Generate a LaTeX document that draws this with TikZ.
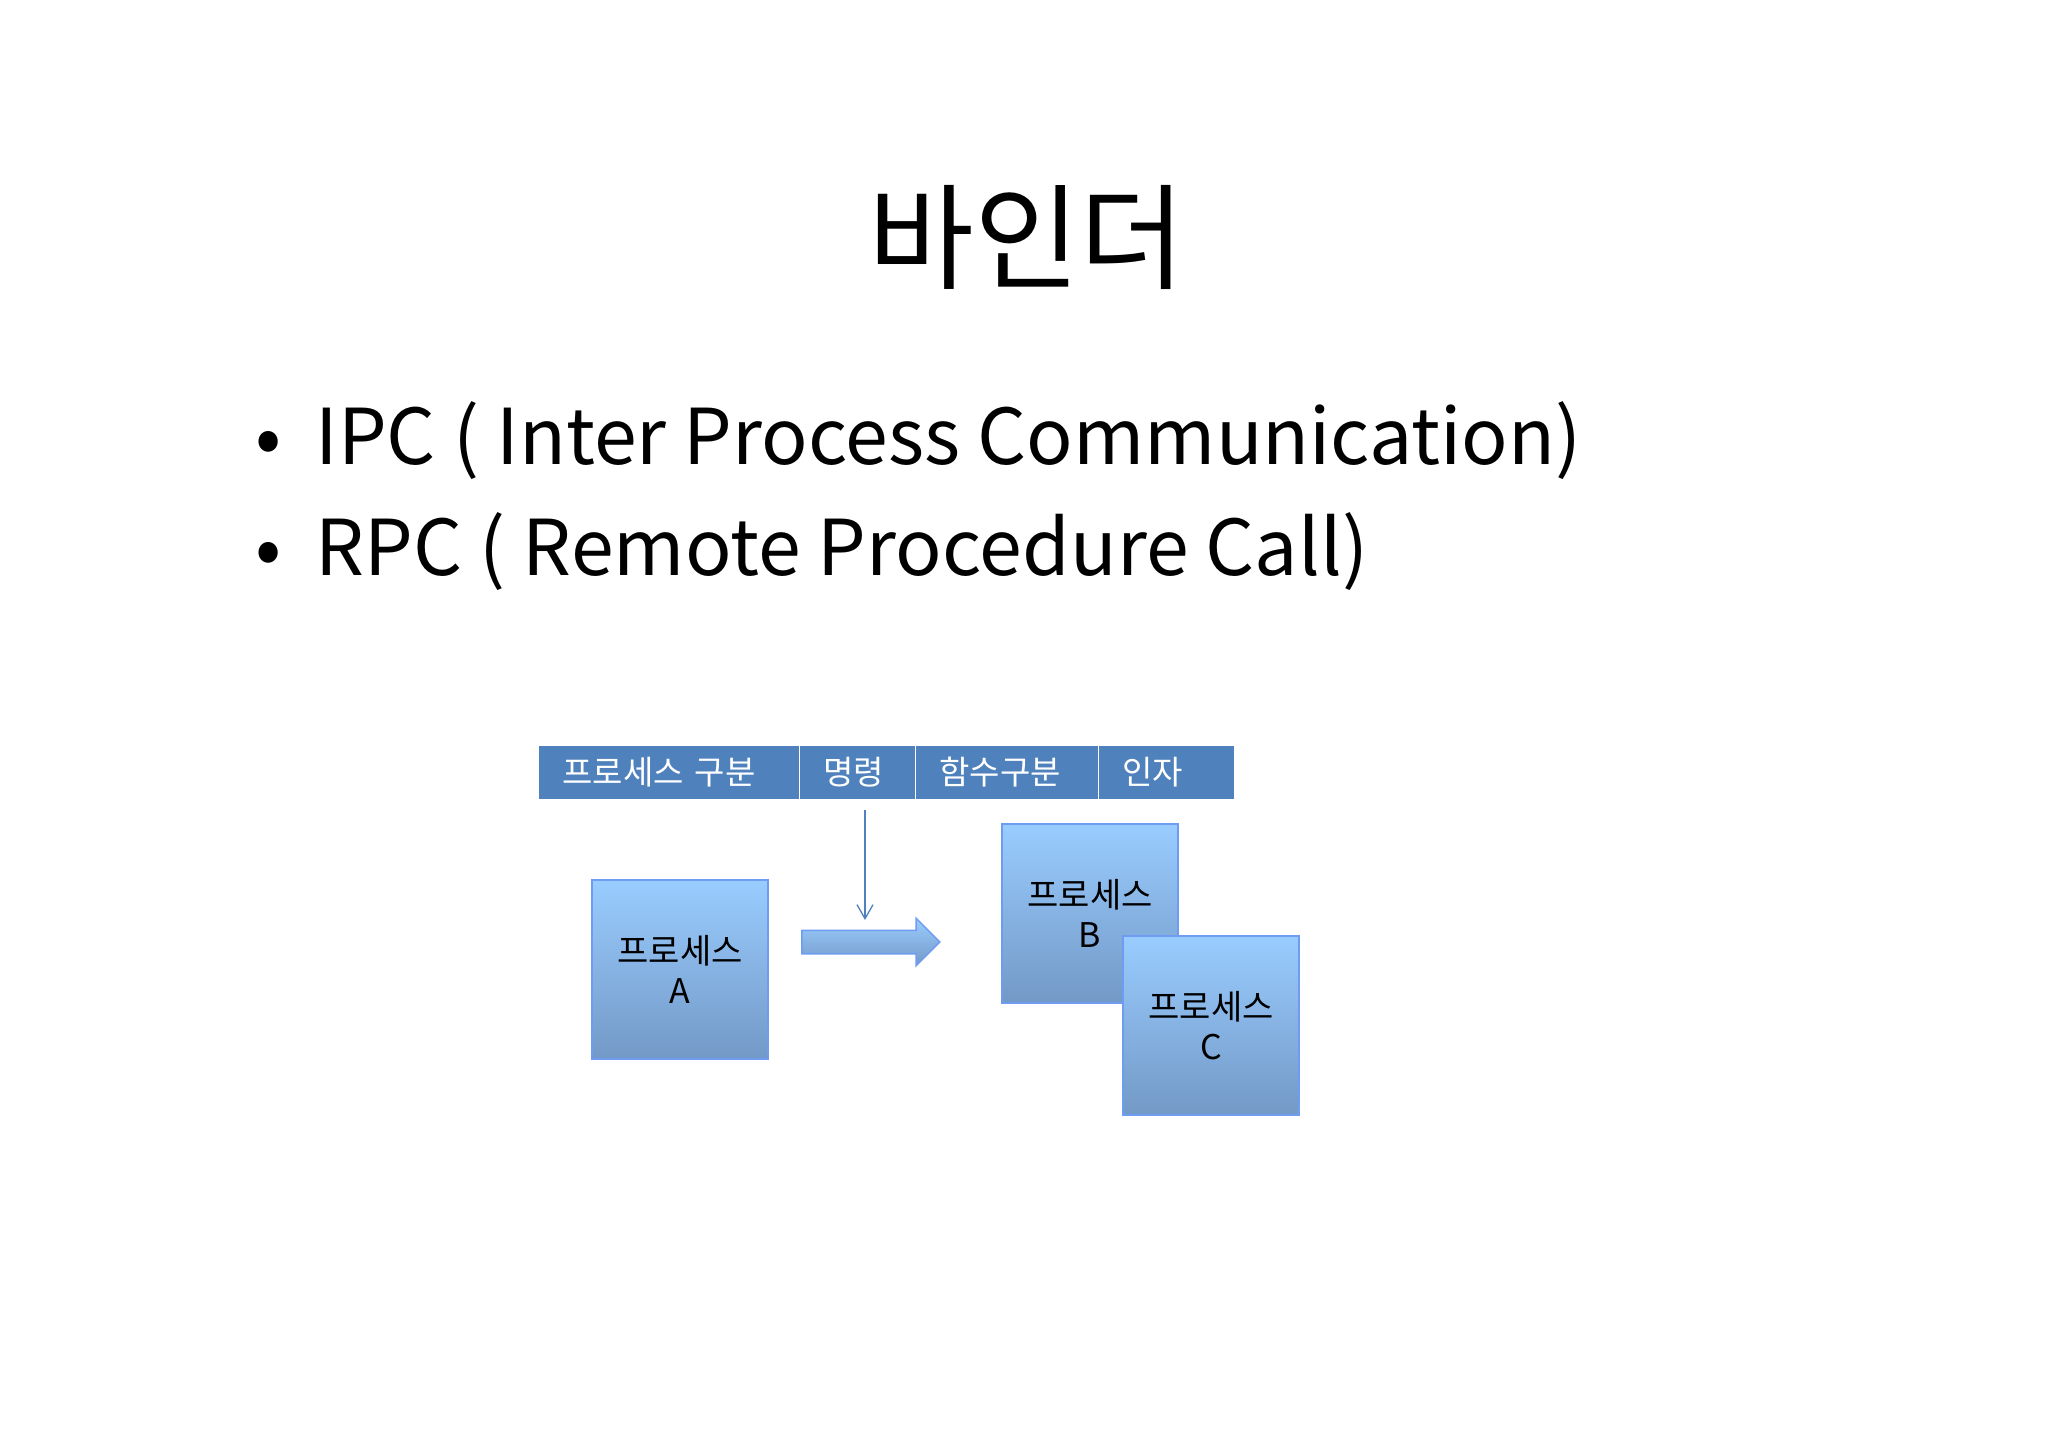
\documentclass[tikz,border=0pt]{standalone}
\usepackage{fontspec}
\setmainfont{Noto Sans CJK KR}
\usetikzlibrary{arrows.meta,shapes.arrows}
\definecolor{barblue}{HTML}{4F81BD}
\definecolor{boxtop}{HTML}{99CCFF}
\definecolor{boxbot}{HTML}{7399C6}
\definecolor{boxline}{HTML}{6E9CF2}
\begin{document}
\begin{tikzpicture}[
  x=1pt,y=-1pt,
  cell/.style={draw=white,thick,fill=barblue,text=white,anchor=north west,
    minimum height=54pt,inner sep=0pt,font=\fontsize{33}{36}\selectfont,
    text height=30pt,text depth=6pt,align=left,text width=#1-24pt,minimum width=#1},
  proc/.style={draw=boxline,line width=2pt,top color=boxtop,bottom color=boxbot,
    minimum width=176pt,minimum height=179pt,anchor=north west,align=center,
    font=\fontsize{34}{40}\selectfont,inner sep=0pt},
  bullet/.style={anchor=base west,font=\fontsize{77}{90}\selectfont},
  to/.style={-{Straight Barb[length=14pt,width=16pt]},barblue,line width=1.3pt}]

  % page
  \useasboundingbox (0,0) rectangle (2048,1448);

  % title and bullet lines
  \node[font=\fontsize{115}{120}\selectfont] (title) at (1027,237) {바인더};
  \node[bullet] (ipc) at (252,464) {•\hspace{34pt}IPC ( Inter Process Communication)};
  \node[bullet] (rpc) at (252,575) {•\hspace{34pt}RPC ( Remote Procedure Call)};

  % message fields
  \node[cell=261pt] (who) at (538,745) {\hspace*{12pt}프로세스 구분};
  \node[cell=116pt] (cmd) at (799,745) {\hspace*{12pt}명령};
  \node[cell=183pt] (fn) at (915,745) {\hspace*{12pt}함수구분};
  \node[cell=136pt] (arg) at (1098,745) {\hspace*{12pt}인자};

  % processes
  \node[proc] (pa) at (591,879) {프로세스\\A};
  \node[proc] (pb) at (1001,823) {프로세스\\B};
  \node[proc] (pc) at (1122,935) {프로세스\\C};

  % call
  \coordinate (top) at (865,810);
  \coordinate (drop) at (865,920);
  \draw[to] (top) -- (drop);
  \node[single arrow,draw=boxline,line width=1.5pt,top color=boxtop,bottom color=boxbot,
    minimum height=138pt,minimum width=46pt,single arrow head extend=12pt,
    inner sep=0pt] (send) at (865,942) {\rule{0pt}{22pt}};
\end{tikzpicture}
\end{document}
